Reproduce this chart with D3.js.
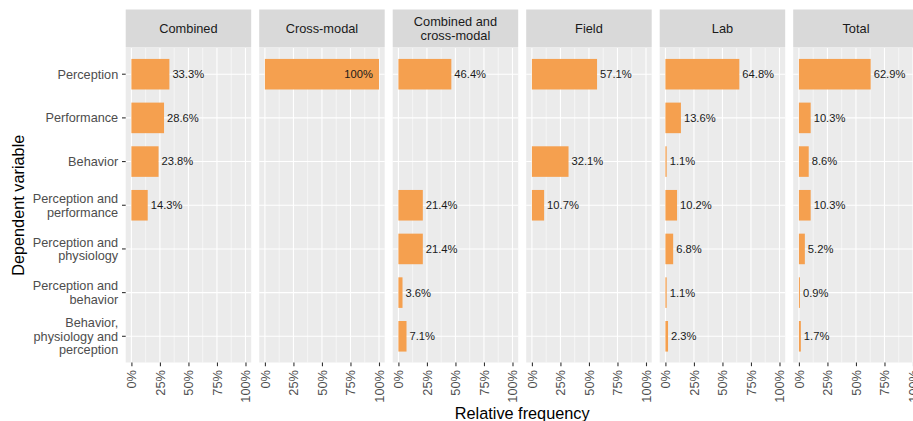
<!DOCTYPE html>
<html>
<head>
<meta charset="utf-8">
<script src="https://cdn.jsdelivr.net/npm/d3@7"></script>
<style>
  body { margin: 0; background: #fff; }
  text { font-family: "Liberation Sans", Arial, sans-serif; }
</style>
</head>
<body>
<div id="chart"></div>
<script>
// facets, categories and relative frequencies (%)
var facets = ["Combined", "Cross-modal", "Combined and\ncross-modal", "Field", "Lab", "Total"];
var categories = ["Perception", "Performance", "Behavior", "Perception and\nperformance",
  "Perception and\nphysiology", "Perception and\nbehavior", "Behavior,\nphysiology and\nperception"];
var combined      = [33.3, 28.6, 23.8, 14.3, null, null, null];
var crossModal    = [100, null, null, null, null, null, null];
var combinedCross = [46.4, null, null, 21.4, 21.4, 3.6, 7.1];
var field         = [57.1, null, 32.1, 10.7, null, null, null];
var lab           = [64.8, 13.6, 1.1, 10.2, 6.8, 1.1, 2.3];
var total         = [62.9, 10.3, 8.6, 10.3, 5.2, 0.9, 1.7];
var xTicks = [0, 25, 50, 75, 100];

var series = [combined, crossModal, combinedCross, field, lab, total];

var W = 913, H = 421,
    panelTop = 48, panelBottom = 362.5,
    stripTop = 9.5;

var svg = d3.select("#chart").append("svg")
  .attr("width", W).attr("height", H);

var fx = d3.scaleBand().domain(d3.range(facets.length))
  .range([125.7, 918.7]).paddingInner(0.06);

// ggplot discrete expansion: 0.6 units each side
var step = (panelBottom - panelTop) / (categories.length - 1 + 1.2);
function yc(c) { return panelTop + (0.6 + categories.indexOf(c)) * step; }
var barH = step * 0.7;

facets.forEach(function(name, i) {
  var x0 = fx(i), bw = fx.bandwidth();
  var x = d3.scaleLinear().domain([-5, 105]).range([x0, x0 + bw]);
  var g = svg.append("g").attr("class", "panel");

  g.append("rect")
    .attr("x", x0).attr("y", panelTop)
    .attr("width", bw).attr("height", panelBottom - panelTop)
    .attr("fill", "#ebebeb");

  // minor grid
  g.selectAll(".minor").data([12.5, 37.5, 62.5, 87.5]).enter().append("line")
    .attr("x1", function(d) { return x(d); }).attr("x2", function(d) { return x(d); })
    .attr("y1", panelTop).attr("y2", panelBottom)
    .attr("stroke", "#fff").attr("stroke-width", 0.55);
  // major grid
  g.selectAll(".majx").data(xTicks).enter().append("line")
    .attr("x1", function(d) { return x(d); }).attr("x2", function(d) { return x(d); })
    .attr("y1", panelTop).attr("y2", panelBottom)
    .attr("stroke", "#fff").attr("stroke-width", 1.1);
  g.selectAll(".majy").data(categories).enter().append("line")
    .attr("x1", x0).attr("x2", x0 + bw)
    .attr("y1", function(d) { return yc(d); }).attr("y2", function(d) { return yc(d); })
    .attr("stroke", "#fff").attr("stroke-width", 1.1);

  var rows = categories.map(function(c, j) { return {cat: c, v: series[i][j]}; })
    .filter(function(d) { return d.v != null; });

  g.selectAll(".bar").data(rows).enter().append("rect")
    .attr("x", x(0))
    .attr("y", function(d) { return yc(d.cat) - barH / 2; })
    .attr("width", function(d) { return x(d.v) - x(0); })
    .attr("height", barH)
    .attr("fill", "#f5a04f");

  g.selectAll(".lbl").data(rows).enter().append("text")
    .attr("x", function(d) { return d.v >= 99 ? x(d.v) - 6 : x(d.v) + 3; })
    .attr("y", function(d) { return yc(d.cat); })
    .attr("dy", "0.35em")
    .attr("text-anchor", function(d) { return d.v >= 99 ? "end" : "start"; })
    .attr("font-size", 11.2).attr("fill", "#1a1a1a")
    .text(function(d) { return (d.v === 100 ? "100" : d.v.toFixed(1)) + "%"; });

  // strip
  g.append("rect")
    .attr("x", x0).attr("y", stripTop)
    .attr("width", bw).attr("height", panelTop - stripTop - 0.5)
    .attr("fill", "#d9d9d9");
  var lines = name.split("\n");
  var st = g.append("text")
    .attr("x", x0 + bw / 2).attr("y", (stripTop + panelTop) / 2)
    .attr("text-anchor", "middle").attr("font-size", 12.8).attr("fill", "#1a1a1a");
  lines.forEach(function(l, k) {
    st.append("tspan").attr("x", x0 + bw / 2)
      .attr("dy", k === 0 ? (0.35 - (lines.length - 1) * 0.55) + "em" : "1.1em")
      .text(l);
  });

  // x axis
  var ax = g.append("g").attr("transform", "translate(0," + panelBottom + ")")
    .call(d3.axisBottom(x).tickValues(xTicks).tickSize(3.7).tickPadding(4)
      .tickFormat(function(d) { return d + "%"; }));
  ax.select(".domain").remove();
  ax.selectAll(".tick line").attr("stroke", "#333").attr("stroke-width", 1.1);
  ax.selectAll(".tick text")
    .attr("transform", "rotate(-90)")
    .attr("text-anchor", "end")
    .attr("x", -7.5).attr("y", 0).attr("dy", "0.35em")
    .attr("font-size", 12.8).attr("fill", "#4d4d4d")
    .style("font-family", "'Liberation Sans', Arial, sans-serif");
});

// y axis
var yAxis = svg.append("g");
categories.forEach(function(c) {
  var cy = yc(c);
  yAxis.append("line")
    .attr("x1", fx(0) - 3.7).attr("x2", fx(0))
    .attr("y1", cy).attr("y2", cy)
    .attr("stroke", "#333").attr("stroke-width", 1.1);
  var lines = c.split("\n");
  var t = yAxis.append("text")
    .attr("x", fx(0) - 7.5).attr("y", cy)
    .attr("text-anchor", "end").attr("font-size", 12.7).attr("fill", "#4d4d4d");
  lines.forEach(function(l, k) {
    t.append("tspan").attr("x", fx(0) - 7.5)
      .attr("dy", k === 0 ? (0.35 - (lines.length - 1) * 0.54) + "em" : "1.08em")
      .text(l);
  });
});

// axis titles
svg.append("text")
  .attr("x", (fx(0) + 918.7) / 2).attr("y", 419)
  .attr("text-anchor", "middle").attr("font-size", 16.3).attr("fill", "#000")
  .text("Relative frequency");
svg.append("text")
  .attr("transform", "translate(24," + (panelTop + panelBottom) / 2 + ") rotate(-90)")
  .attr("text-anchor", "middle").attr("font-size", 16.3).attr("fill", "#000")
  .text("Dependent variable");
</script>
</body>
</html>
